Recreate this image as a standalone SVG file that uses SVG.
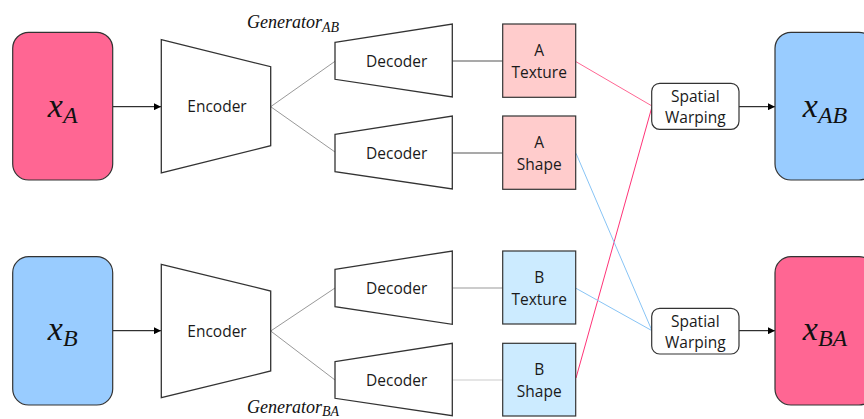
<svg xmlns="http://www.w3.org/2000/svg" width="864" height="419" viewBox="0 0 864 419">
<defs>
<marker id="arr" viewBox="0 0 10 10" refX="10" refY="5" markerWidth="7" markerHeight="7" markerUnits="userSpaceOnUse" orient="auto">
<path d="M0,0 L10,5 L0,10 z" fill="#000"/>
</marker>
<style>
.img{stroke:#333;stroke-width:1.2}
.pink{fill:#FF6693}
.blue{fill:#99CCFF}
.trap{fill:#fff;stroke:#333;stroke-width:1.3}
.box{stroke:#333;stroke-width:1.2}
.pa{fill:#FFCCCC}
.pb{fill:#CCEBFF}
.sw{fill:#fff;stroke:#333;stroke-width:1.2}
.t{font-family:"Open Sans","Noto Sans","Liberation Sans",sans-serif;font-size:15.5px;fill:#1a1a1a;text-anchor:middle}
.m{font-family:"Liberation Serif","DejaVu Serif",serif;font-style:italic;fill:#111;text-anchor:middle}
.g{font-family:"Liberation Serif","DejaVu Serif",serif;font-style:italic;fill:#111;font-size:18px}
</style>
</defs>
<g id="connectors" fill="none">
<line x1="113" y1="106.7" x2="161" y2="106.7" stroke="#000" stroke-width="1" marker-end="url(#arr)"/>
<line x1="113" y1="330.7" x2="161" y2="330.7" stroke="#000" stroke-width="1" marker-end="url(#arr)"/>
<line x1="270.7" y1="106.7" x2="335" y2="61.3" stroke="#999" stroke-width="1"/>
<line x1="270.7" y1="106.7" x2="335" y2="152" stroke="#999" stroke-width="1"/>
<line x1="270.7" y1="331" x2="335" y2="288" stroke="#999" stroke-width="1"/>
<line x1="270.7" y1="331" x2="335" y2="380" stroke="#999" stroke-width="1"/>
<line x1="452.3" y1="61" x2="502.7" y2="61" stroke="#555" stroke-width="1.2"/>
<line x1="452.3" y1="153" x2="502.7" y2="153" stroke="#555" stroke-width="1.2"/>
<line x1="452.3" y1="288" x2="502.7" y2="288" stroke="#999" stroke-width="1.2"/>
<line x1="452.3" y1="380" x2="502.7" y2="380" stroke="#ccc" stroke-width="1.2"/>
<line x1="576" y1="61.7" x2="652" y2="106" stroke="#FF6693" stroke-width="1"/>
<line x1="576" y1="378" x2="652" y2="106.7" stroke="#FF3377" stroke-width="1"/>
<line x1="576" y1="153.3" x2="652" y2="330.7" stroke="#88C4F5" stroke-width="1"/>
<line x1="576" y1="288.3" x2="652" y2="330.7" stroke="#88C4F5" stroke-width="1"/>
<line x1="739" y1="106.7" x2="775" y2="106.7" stroke="#000" stroke-width="1" marker-end="url(#arr)"/>
<line x1="739" y1="330.7" x2="775" y2="330.7" stroke="#000" stroke-width="1" marker-end="url(#arr)"/>
</g>
<g id="xA"><rect x="12.7" y="32.3" width="100" height="147.7" rx="16" class="img pink"/><text class="m" x="62.7" y="117" font-size="34">x<tspan font-size="24" dy="6">A</tspan></text></g>
<g id="xB"><rect x="12.7" y="256.7" width="100" height="148.3" rx="16" class="img blue"/><text class="m" x="62.7" y="340" font-size="34">x<tspan font-size="24" dy="6">B</tspan></text></g>
<g id="encoderA"><polygon points="161.3,39.7 270.7,66.7 270.7,145.7 161.3,173" class="trap"/><text class="t" x="217" y="112">Encoder</text></g>
<g id="encoderB"><polygon points="161.3,264.3 270.7,291 270.7,371 161.3,397.7" class="trap"/><text class="t" x="217" y="337">Encoder</text></g>
<g id="genAB"><text class="g" x="247" y="28">Generator<tspan font-size="14" dy="4">AB</tspan></text></g>
<g id="genBA"><text class="g" x="247" y="413">Generator<tspan font-size="14" dy="3">BA</tspan></text></g>
<g id="decA1"><polygon points="335,42.3 452.3,24 452.3,97 335,79.3" class="trap"/><text class="t" x="396.7" y="67">Decoder</text></g>
<g id="decA2"><polygon points="335,134.3 452.3,116 452.3,189 335,171.7" class="trap"/><text class="t" x="396.7" y="159">Decoder</text></g>
<g id="decB1"><polygon points="335,269.3 452.3,251 452.3,324.3 335,306.7" class="trap"/><text class="t" x="396.7" y="294">Decoder</text></g>
<g id="decB2"><polygon points="335,361.7 452.3,343.3 452.3,415.7 335,398.3" class="trap"/><text class="t" x="396.7" y="386">Decoder</text></g>
<g id="aTexture"><rect x="502.7" y="24" width="73" height="73.3" class="box pa"/><text class="t" x="539.2" y="56">A</text><text class="t" x="539.2" y="78">Texture</text></g>
<g id="aShape"><rect x="502.7" y="116" width="73" height="73.3" class="box pa"/><text class="t" x="539.2" y="148">A</text><text class="t" x="539.2" y="170">Shape</text></g>
<g id="bTexture"><rect x="502.7" y="251" width="73" height="73" class="box pb"/><text class="t" x="539.2" y="283">B</text><text class="t" x="539.2" y="305">Texture</text></g>
<g id="bShape"><rect x="502.7" y="343.3" width="73" height="72.7" class="box pb"/><text class="t" x="539.2" y="375">B</text><text class="t" x="539.2" y="397">Shape</text></g>
<g id="warpTop"><rect x="651.7" y="83.3" width="87.3" height="46" rx="8" class="sw"/><text class="t" x="695.3" y="101.5">Spatial</text><text class="t" x="695.3" y="122.5">Warping</text></g>
<g id="warpBottom"><rect x="651.7" y="308.3" width="87.3" height="45.7" rx="8" class="sw"/><text class="t" x="695.3" y="326.5">Spatial</text><text class="t" x="695.3" y="347.5">Warping</text></g>
<g id="xAB"><rect x="775" y="32.3" width="100" height="147.7" rx="16" class="img blue"/><text class="m" x="825" y="117" font-size="34">x<tspan font-size="24" dy="6">AB</tspan></text></g>
<g id="xBA"><rect x="775" y="256.7" width="100" height="148.3" rx="16" class="img pink"/><text class="m" x="825" y="340" font-size="34">x<tspan font-size="24" dy="6">BA</tspan></text></g>
</svg>
